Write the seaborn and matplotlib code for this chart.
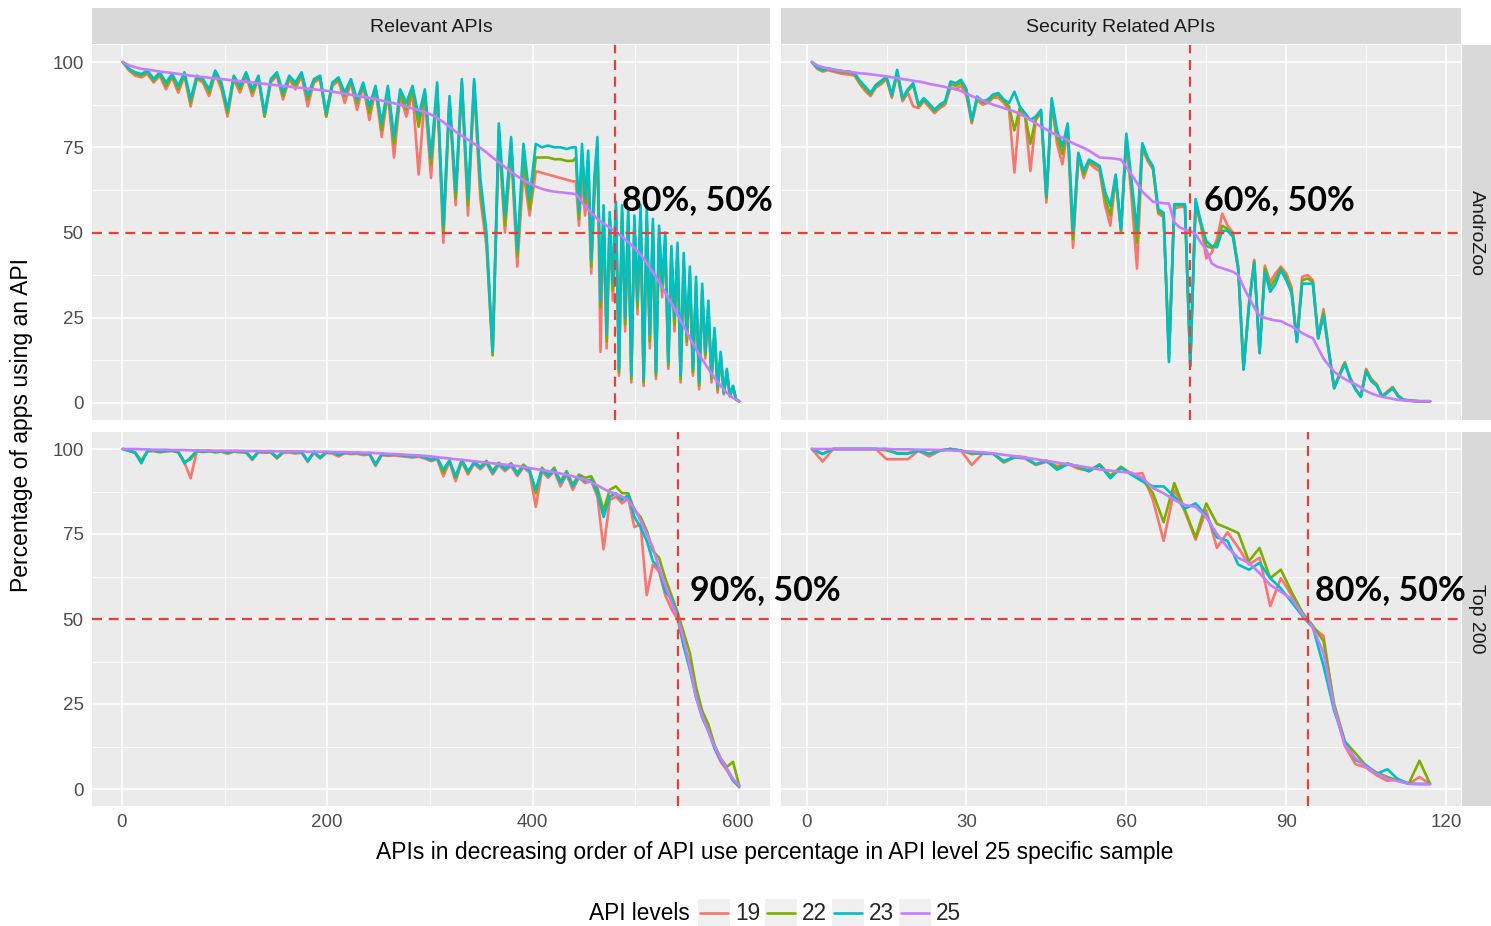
import numpy as np
import pandas as pd
import seaborn as sns
import matplotlib.pyplot as plt
from matplotlib.lines import Line2D
from matplotlib.patches import Rectangle

# API rank positions (ordered by API level 25 usage)
az_rel_x = np.concatenate([np.arange(1, 440, 6), np.arange(442, 602, 3)])  # denser in the noisy tail
top_rel_x = np.arange(1, 602, 6)
sec_x = np.arange(1, 118)
sec_top_x = np.arange(1, 118, 2)

levels = ["19", "22", "23", "25"]
colors = {"19": "#F8766D", "22": "#7CAE00", "23": "#00BFC4", "25": "#C77CFF"}

# --- AndroZoo, Relevant APIs ---
az_rel_19 = [100, 97.5, 96, 95.5, 96.5, 94, 96, 92, 95.5, 91, 96, 87, 95, 94, 90, 96.5, 92, 84, 95, 91,
             96, 90, 95, 84, 94, 96, 89, 95, 92, 96, 87, 94, 95, 84, 93, 94.5, 88, 94, 86, 93,
             83, 92, 78, 91, 72, 90, 84, 91, 67, 90, 66, 92, 47, 88, 58, 93, 55, 93, 60, 46,
             14, 78, 50, 74, 40, 68, 55, 68, 67.5, 67, 66.5, 66, 65.5, 65,
             65, 52, 66, 55, 64, 38, 60, 74, 15, 54, 16, 52, 30, 55, 8, 54, 21, 53, 6, 51,
             26, 54, 5, 53, 16, 50, 7, 48, 31, 46, 10, 42, 21, 43, 6, 40, 17, 36, 8, 33,
             4, 31, 13, 27, 6, 20, 3, 13, 2.5, 8, 2, 4.5, 1, 0.5]
az_rel_22 = [100, 98, 96.5, 96, 97, 94.5, 96.5, 93, 96, 92, 96.5, 88, 95.5, 94.5, 91, 97, 93, 85, 95.5, 92,
             96.5, 91, 95.5, 84, 94.5, 96.5, 90, 95.5, 93, 96.5, 89, 94.5, 95.5, 84, 93.5, 95, 90, 94.5, 88, 93.5,
             85, 92.5, 80, 92, 76, 91, 86, 92, 81, 91, 70, 93, 50, 89, 60, 94, 58, 94, 63, 48,
             14, 80, 52, 76, 43, 72, 57, 72, 72, 72, 71.5, 71.5, 71, 71,
             72, 54, 73, 58, 71, 40, 63, 76, 28, 56, 18, 54, 33, 57, 9, 56, 23, 55, 7, 53,
             28, 56, 6, 55, 18, 52, 8, 50, 33, 48, 11, 44, 23, 45, 7, 42, 18, 38, 9, 35,
             5, 33, 14, 28, 7, 21, 4, 14, 3, 9, 2, 5, 1, 0.5]
az_rel_23 = [100, 98, 97, 96.5, 97.5, 95, 97, 94, 96.5, 93, 97, 89, 96, 95, 92, 97.5, 94, 86, 96, 93,
             97, 92, 96, 85, 95, 97, 91, 96, 94, 97, 90, 95, 96, 85, 94, 95.5, 91, 95, 89, 94,
             87, 93, 82, 93, 78, 92, 88, 93, 84, 92, 72, 94, 52, 90, 62, 95, 60, 95, 66, 50,
             15, 82, 55, 78, 45, 76, 60, 76, 75, 75.5, 75, 75, 74.5, 75,
             75, 56, 76, 60, 74, 42, 66, 78, 30, 58, 20, 56, 35, 59, 10, 58, 25, 57, 8, 55,
             30, 58, 7, 57, 20, 54, 9, 52, 35, 50, 12, 46, 25, 47, 8, 44, 20, 40, 10, 37,
             6, 35, 15, 30, 8, 22, 5, 15, 3, 10, 2, 5, 1, 0.5]
az_rel_25 = [100, 99, 98.5, 98, 97.8, 97.5, 97.2, 97, 96.8, 96.5, 96.3, 96, 95.8, 95.6, 95.4, 95.2, 95, 94.8, 94.6, 94.4,
             94.2, 94, 93.8, 93.6, 93.4, 93.2, 93, 92.8, 92.6, 92.4, 92.2, 92, 91.8, 91.6, 91.3, 91, 90.7, 90.4, 90.1, 89.8,
             89.5, 89.1, 88.7, 88.3, 87.9, 87.4, 86.9, 86.4, 85.9, 85.3, 84.6, 83.6, 82.4, 81, 79.6, 78.4, 77.2, 76, 74.8, 73.5,
             72, 70.6, 69.2, 67.8, 66.5, 65.4, 64.4, 63.5, 62.8, 62.3, 62, 61.8, 61.6, 61.4,
             61.2, 60.2, 59, 57.8, 56.8, 55.8, 54.9, 54, 53.3, 52.6, 52, 51.4, 50.8, 50.2, 49.5, 48.8, 48, 47.2, 46.4, 45.5,
             44.5, 43.5, 42.3, 41, 39.7, 38.3, 37, 35.5, 34, 32.4, 30.8, 29.2, 27.6, 26, 24.2, 22.5, 20.8, 19, 17.4, 15.8,
             14.3, 12.8, 11.4, 10, 8.7, 7.4, 6.2, 5, 4, 3, 2.2, 1.5, 1, 0.5]

# --- AndroZoo, Security Related APIs ---
az_sec_19 = [100, 98, 97.2, 97.6, 97.2, 96.8, 96.5, 96.3, 96, 93.5, 91.5, 90, 92.5, 93.5, 95, 89.5, 96.5, 88.5, 91, 87,
             86.5, 88.5, 86.8, 85, 86.5, 87.5, 92.5, 92, 93, 90, 82, 88.9, 87.5, 88, 89.5, 89.5, 88, 86, 67.6, 86,
             84, 68, 83, 85, 58.8, 88, 76, 70, 80, 45.5, 72.5, 66, 70.5, 69, 68, 58, 52, 66, 50, 77,
             60, 39.4, 74.5, 71, 68.5, 55.5, 54.5, 14.5, 57, 57.5, 57.5, 12, 58, 52, 42.4, 44, 48, 55.5, 52, 50,
             40, 10, 29, 42, 15, 40.3, 35.5, 38, 40, 38, 34, 18.5, 37, 37.5, 36, 19.5, 27.5, 15.5, 4.5, 8.5,
             12, 7.5, 4.2, 2, 10, 7, 5.5, 2, 3.4, 4.7, 2.2, 1, 0.8, 0.6, 0.5, 0.5, 0.5]
az_sec_22 = [100, 98.3, 97.5, 98, 97.5, 97.2, 97, 96.8, 96.5, 94, 92, 90.5, 93, 94, 95.3, 90, 97, 89, 91.5, 93.3,
             87, 89, 87.3, 85.5, 87, 88, 93.5, 93, 94, 91.5, 82.5, 89.4, 88, 88.5, 90, 90.3, 88.5, 87, 80, 86.5,
             84.5, 76, 83.5, 85.5, 60, 88.5, 78, 73, 81, 48, 73, 67, 71, 70, 69, 60, 55, 66.5, 50.5, 78,
             63, 47, 75.5, 71.5, 69, 56, 55, 13, 58, 58, 58, 11, 59, 52.5, 46, 45.5, 47, 52, 51, 49.5,
             39.5, 9.8, 28.5, 41.5, 14.6, 39.5, 34, 36.5, 39.5, 37, 33, 17.9, 36, 36.5, 35.5, 18.9, 26.5, 15, 4.3, 8.3,
             11.8, 7.3, 4, 1.8, 9.6, 6.6, 5.3, 1.8, 3.2, 4.5, 2, 0.9, 0.7, 0.6, 0.5, 0.5, 0.5]
az_sec_23 = [100, 98.5, 97.7, 98.2, 97.8, 97.5, 97.3, 97.2, 96.8, 94.5, 92.8, 91, 93.3, 94.5, 95.7, 90.4, 97.7, 89.4, 92, 93.8,
             87.5, 89.4, 87.8, 86, 87.5, 88.5, 94.3, 93.8, 94.8, 92, 83, 89.9, 88.5, 89, 90.5, 90.9, 89, 88, 91.3, 87,
             85, 83, 84, 86, 60.8, 89.4, 80, 75.3, 82, 50.5, 73.4, 68, 71.4, 70.5, 69.5, 62, 57.8, 67, 51, 79,
             65, 50.5, 76.2, 72, 69.4, 56.8, 55.8, 12, 58.3, 58.3, 58.3, 10.7, 59.8, 53, 47.5, 46, 45.7, 50.5, 50.5, 48.7,
             39, 9.8, 28, 41, 14.6, 38.5, 32.6, 35, 39, 36, 32.3, 17.9, 35, 35, 35, 18.9, 25.7, 15, 4.3, 8,
             11.4, 7, 4, 1.8, 9.2, 6.3, 5, 1.8, 3, 4.3, 2, 0.9, 0.7, 0.6, 0.5, 0.5, 0.5]
az_sec_25 = [100, 99, 98.5, 98.1, 97.8, 97.5, 97.3, 97.1, 96.9, 96.7, 96.6, 96.4, 96.2, 96, 95.8, 95.5, 95.3, 95, 94.8, 94.5,
             94.3, 94, 93.6, 93.3, 93, 92.7, 92.4, 92, 91.5, 90.8, 90, 89.4, 88.8, 88.1, 87.5, 87, 86.5, 86, 85.5, 84.8,
             84, 83, 82, 81, 80.2, 79.3, 78.5, 77.8, 77, 76.2, 75.5, 74.8, 74, 73, 72, 71.9, 71.8, 71.6, 71.4, 69.2,
             67, 64.5, 62, 60.5, 59, 58.8, 58.6, 58.5, 53, 51.5, 50.8, 50.5, 49.5, 47, 45, 41, 40, 39.5, 39, 38.5,
             37.5, 34, 31, 28, 25.5, 25, 24.5, 24.2, 24, 23.2, 22.5, 21.5, 20.5, 19.7, 19, 16, 13, 11, 9.2, 8,
             7, 6.2, 5.5, 4.5, 3.5, 2.8, 2.2, 1.8, 1.5, 1.2, 0.9, 0.8, 0.6, 0.5, 0.5, 0.5, 0.5]

# --- Top 200, Relevant APIs ---
top_rel_19 = [100, 99.4, 98.8, 96, 99.3, 99.4, 99, 99.3, 99.4, 99, 96, 91.4, 99.3, 99.1, 99.3, 99, 99.2, 98.6, 99.2, 99,
              98.9, 96.8, 99, 98.9, 99, 97.2, 98.9, 99, 98.7, 98.9, 96.2, 98.9, 97.2, 98.8, 98.7, 97.8, 98.7, 98.5, 98.6, 98.2,
              98.4, 95, 98.2, 98, 98.1, 97.9, 97.7, 97.5, 97.7, 97.2, 96.4, 97, 92, 96.2, 90.5, 96.3, 92.5, 95.7, 94, 95.8,
              92.5, 95.3, 93.5, 95, 92, 94.6, 93, 83, 93.5, 91.5, 93.5, 89, 92.5, 88, 91.5, 90, 90.5, 86, 70.5, 85,
              86, 84, 85.5, 77, 78, 57, 66, 64, 57, 53, 50, 42, 37, 27, 22, 18, 12, 8, 5.5, 2.5, 0.5]
top_rel_22 = [100, 99.5, 99, 96.5, 99.4, 99.5, 99.2, 99.4, 99.5, 99.1, 96.2, 97, 99.4, 99.2, 99.4, 99.1, 99.3, 98.8, 99.3, 99.2,
              99.1, 97.2, 99.2, 99.1, 99.2, 97.4, 99.1, 99.2, 98.9, 99.1, 96.6, 99.1, 97.6, 99, 98.9, 98.3, 98.9, 98.7, 98.8, 98.5,
              98.6, 95.6, 98.4, 98.2, 98.3, 98.3, 98.1, 98, 98.1, 97.6, 97, 97.4, 93, 96.8, 91.5, 96.5, 93, 96.2, 94.8, 96.5,
              93.5, 96, 94.3, 95.8, 93, 95.4, 93.8, 87, 94.5, 92.5, 94.5, 90.5, 93.5, 89.5, 92.5, 91.5, 92, 88.5, 82, 88,
              89, 87, 87, 82, 80, 76, 70, 68, 62, 57, 52, 46, 40, 30, 23, 19, 13, 9, 6.5, 8, 1]
top_rel_23 = [100, 99.5, 99, 95.8, 99.5, 99.6, 99.3, 99.5, 99.6, 99.2, 95.8, 97.5, 99.5, 99.3, 99.5, 99.2, 99.4, 99, 99.4, 99.3,
              99.2, 97, 99.3, 99.2, 99.3, 97.6, 99.2, 99.3, 99, 99.2, 96.4, 99.2, 97.4, 99.1, 99, 98.2, 99, 98.8, 98.9, 98.6,
              98.7, 95.3, 98.5, 98.3, 98.4, 98.2, 98, 97.8, 98, 97.5, 96.8, 97.3, 94, 96.5, 92, 96.8, 93.5, 96, 94.5, 96.2,
              93, 95.8, 94, 95.5, 92.5, 95, 93.5, 88, 94, 92, 94, 90, 93, 89, 92, 90.5, 91, 87, 80, 86,
              87, 85, 86.5, 80, 77, 73, 67, 65, 58, 56, 51, 42, 35, 27, 21, 17, 12, 8.5, 6, 2.5, 0.8]
top_rel_25 = [100, 100, 100, 99.9, 99.9, 99.8, 99.8, 99.8, 99.7, 99.7, 99.7, 99.6, 99.6, 99.6, 99.6, 99.5, 99.5, 99.5, 99.5, 99.5,
              99.4, 99.4, 99.4, 99.4, 99.4, 99.3, 99.3, 99.3, 99.3, 99.3, 99.2, 99.2, 99.2, 99.2, 99.1, 99.1, 99.1, 99, 99, 98.9,
              98.9, 98.8, 98.7, 98.6, 98.5, 98.4, 98.3, 98.2, 98.1, 98, 97.8, 97.6, 97.4, 97.2, 97, 96.8, 96.6, 96.4, 96.2, 96,
              95.8, 95.6, 95.4, 95.2, 95, 94.7, 94.4, 94.1, 93.8, 93.5, 93.2, 92.8, 92.4, 92, 91.5, 91, 90.2, 89.3, 88.3, 87.4,
              86.8, 86, 84.8, 82.5, 79, 75, 71, 65, 60, 55, 50.5, 44, 36, 27, 21.5, 17, 12.5, 9, 6, 3, 1]

# --- Top 200, Security Related APIs ---
top_sec_19 = [100, 96.3, 100, 100, 100, 100, 100, 97, 97, 97, 99.5, 97.8, 99.5, 100, 99.5, 95.3, 98.6, 98.6, 96, 97.5,
              97.2, 95.3, 96.2, 95, 95.6, 94.2, 93.6, 95.3, 92.2, 94.5, 92.5, 92.9, 85, 73, 88, 81.5, 73.3, 82, 70.9, 75.5,
              71, 66, 68, 53.8, 62, 57, 51, 47.5, 45, 24, 12.7, 7.3, 6.3, 4, 2.4, 2.9, 1.5, 3.5, 1.5]
top_sec_22 = [100, 98.6, 100, 100, 100, 100, 100, 99.6, 98.8, 98.8, 99.6, 98.6, 99.6, 100, 99.6, 98.5, 98.8, 98.7, 96.2, 97.8,
              97.6, 95.5, 96.6, 94.5, 95.8, 94.5, 93.6, 95.5, 92, 94.8, 92.6, 91, 87, 78.5, 90, 82, 74, 84, 78, 76.7,
              75.3, 67, 70.9, 62, 64.5, 58, 52, 48, 43.5, 25, 14, 10.5, 6.8, 4.8, 3.5, 2.5, 1.6, 8.3, 1.5]
top_sec_23 = [100, 98.5, 100, 100, 100, 100, 100, 100, 98.6, 98.6, 99.5, 98.5, 99.5, 100, 99.5, 99, 98.6, 98.6, 96.5, 97.5,
              97.5, 95.5, 96.5, 93.9, 95.5, 95, 93.4, 95.3, 91.4, 94.5, 92.4, 90.5, 89, 89, 86, 82.5, 84, 80.5, 74, 73,
              66, 64.5, 66.5, 62, 59, 55, 51, 47.5, 36.2, 23, 14, 8.5, 7, 4.5, 5.8, 2.8, 1.6, 1.5, 1.5]
top_sec_25 = [100, 100, 100, 100, 100, 100, 100, 100, 99.9, 99.9, 99.8, 99.8, 99.7, 99.6, 99.4, 99.2, 99, 98.7, 98.3, 97.9,
              97.5, 97, 96.5, 96, 95.5, 95, 94.5, 94, 93.6, 93.3, 93, 91.5, 88.5, 87, 85, 83.5, 83, 80, 75, 71,
              68, 66.5, 63.5, 60, 58, 56, 51.5, 47.5, 40, 24, 13, 9, 6.5, 4.5, 3, 2.3, 1.5, 1.4, 1.4]

# cutoff lines (rank at which the 50% line is crossed) and labels
cut_x = {"az_rel": 480, "az_sec": 72, "top_rel": 541, "top_sec": 94}
cut_label = {"az_rel": "80%, 50%", "az_sec": "60%, 50%", "top_rel": "90%, 50%", "top_sec": "80%, 50%"}


def make_frame(x, s19, s22, s23, s25):
    parts = []
    for lev, vals in zip(levels, [s19, s22, s23, s25]):
        parts.append(pd.DataFrame({"api": x, "pct": vals, "level": lev}))
    return pd.concat(parts, ignore_index=True)


frames = {
    "az_rel": make_frame(az_rel_x, az_rel_19, az_rel_22, az_rel_23, az_rel_25),
    "az_sec": make_frame(sec_x, az_sec_19, az_sec_22, az_sec_23, az_sec_25),
    "top_rel": make_frame(top_rel_x, top_rel_19, top_rel_22, top_rel_23, top_rel_25),
    "top_sec": make_frame(sec_top_x, top_sec_19, top_sec_22, top_sec_23, top_sec_25),
}

sns.set_theme(style="darkgrid", rc={"axes.facecolor": "#EBEBEB", "grid.color": "white",
                                    "grid.linewidth": 1.1})
plt.rcParams["font.family"] = ["Liberation Sans", "DejaVu Sans"]

W, H = 1491, 926
fig = plt.figure(figsize=(W / 100, H / 100), dpi=100)
fig.patch.set_facecolor("white")


def box(l, t, r, b):
    return [l / W, 1 - b / H, (r - l) / W, (b - t) / H]


cols = {"rel": (92, 770), "sec": (781, 1461)}
rows = {"az": (45, 420), "top": (432, 806)}

tick_col = "#4D4D4D"
line_red = "#E5403B"
for rkey, (t, b) in rows.items():
    for ckey, (l, r) in cols.items():
        key = f"{rkey}_{ckey}"
        ax = fig.add_axes(box(l, t, r, b))
        # left panels on top so their labels can run into the right column
        ax.set_zorder(3 if ckey == "rel" else 2)
        sns.lineplot(data=frames[key], x="api", y="pct", hue="level", hue_order=levels,
                     palette=colors, estimator=None, linewidth=1.9, legend=False, ax=ax)
        if ckey == "rel":
            ax.set_xlim(-29, 631)
            ax.set_xticks([0, 200, 400, 600])
            ax.set_xticks([100, 300, 500], minor=True)
        else:
            ax.set_xlim(-4.8, 122.8)
            ax.set_xticks([0, 30, 60, 90, 120])
            ax.set_xticks([15, 45, 75, 105], minor=True)
        ax.set_ylim(-5, 105)
        ax.set_yticks([0, 25, 50, 75, 100])
        ax.set_yticks([12.5, 37.5, 62.5, 87.5], minor=True)
        ax.grid(which="major", color="white", linewidth=1.1)
        ax.grid(which="minor", color="white", linewidth=0.55)
        ax.set_xlabel("")
        ax.set_ylabel("")
        for sp in ax.spines.values():
            sp.set_visible(False)
        ax.tick_params(which="minor", length=0)
        ax.tick_params(which="major", length=3, width=1, color="#333333", labelcolor=tick_col,
                       labelsize=13.5, pad=3)
        if rkey == "az":
            ax.tick_params(axis="x", labelbottom=False, length=0)
        if ckey == "sec":
            ax.tick_params(axis="y", labelleft=False, length=0)

        vx = cut_x[key]
        ax.axvline(vx, color=line_red, linewidth=1.6, linestyle=(0, (4.5, 3)), zorder=5)
        ax.axhline(50, color=line_red, linewidth=1.6, linestyle=(0, (4.5, 3)), zorder=5)
        ty = 59.5 if rkey == "az" else 58.4
        off = {"az_rel": 7, "az_sec": 14, "top_rel": 12, "top_sec": 7}[key]
        ax.annotate(cut_label[key], xy=(vx, ty), xytext=(off, 0), textcoords="offset pixels",
                    ha="left", va="center", fontsize=24.5, fontweight="bold",
                    family=["Lato", "DejaVu Sans"], color="black", annotation_clip=False, zorder=10)

# facet strips
strip_col = "#D9D9D9"
for name, (l, r) in zip(["Relevant APIs", "Security Related APIs"], cols.values()):
    sax = fig.add_axes(box(l, 8, r, 44))
    sax.set_zorder(1)
    sax.set_facecolor(strip_col)
    sax.set_xticks([])
    sax.set_yticks([])
    for sp in sax.spines.values():
        sp.set_visible(False)
    sax.text(0.5, 0.45, name, ha="center", va="center", fontsize=14, color="#1A1A1A",
             transform=sax.transAxes)
for name, (t, b) in zip(["AndroZoo", "Top 200"], rows.values()):
    sax = fig.add_axes(box(1462, t, 1491, b))
    sax.set_zorder(1)
    sax.set_facecolor(strip_col)
    sax.set_xticks([])
    sax.set_yticks([])
    for sp in sax.spines.values():
        sp.set_visible(False)
    sax.text(0.5, 0.5, name, ha="center", va="center", fontsize=14, color="#1A1A1A",
             rotation=-90, transform=sax.transAxes)

fig.text(775 / W, 1 - 853 / H, "APIs in decreasing order of API use percentage in API level 25 specific sample",
         ha="center", va="center", fontsize=16.5, color="black")
fig.text(22 / W, 1 - 425 / H, "Percentage of apps using an API", ha="center", va="center",
         rotation=90, fontsize=16.5, color="black")

# legend
fig.text(589 / W, 1 - 914 / H, "API levels", ha="left", va="center", fontsize=16.3, color="black")
handles = [Line2D([], [], color=colors[l], linewidth=1.9) for l in levels]
leg = fig.legend(handles, levels, loc="center left", bbox_to_anchor=(700 / W, 1 - 914 / H), ncol=4,
                 frameon=False, handlelength=1.25, handletextpad=0.3, columnspacing=0.3,
                 fontsize=16.3, borderaxespad=0, borderpad=0)

# light grey key boxes behind the legend lines, like ggplot's legend keys
fig.canvas.draw()
for h in leg.legend_handles:
    bb = h.get_window_extent()
    cx, cy = (bb.x0 + bb.x1) / 2, (bb.y0 + bb.y1) / 2
    kw, kh = bb.width + 4, 28
    fig.patches.append(Rectangle(((cx - kw / 2) / W, (cy - kh / 2) / H), kw / W, kh / H,
                                 transform=fig.transFigure, facecolor="#F0F0F0",
                                 edgecolor="none", zorder=0))

fig.savefig("out.png", dpi=100, facecolor="white")
